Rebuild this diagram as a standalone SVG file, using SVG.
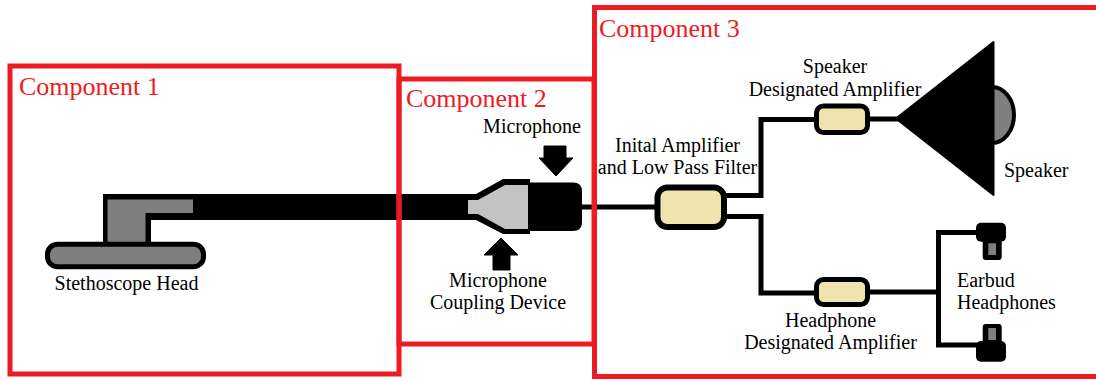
<svg xmlns="http://www.w3.org/2000/svg" width="1096" height="381" viewBox="0 0 1096 381">
<style>
.comp{fill:none;stroke:#ED1C24;stroke-width:5}
.ctitle{font-family:"Liberation Serif","Times New Roman",serif;font-size:26px;fill:#ED1C24}
.lbl{font-family:"Liberation Serif","Times New Roman",serif;font-size:20px;fill:#000}
.mid{text-anchor:middle}
.wire{fill:none;stroke:#000;stroke-width:5;stroke-linejoin:miter;stroke-linecap:square}
.amp{fill:#EFE4B0;stroke:#000}
.blk{fill:#000}
.gray{fill:#7F7F7F}
</style>
<rect width="1096" height="381" fill="#fff"/>

<g id="connectors">
  <line class="wire" x1="582" y1="207" x2="656" y2="207"/>
  <polyline class="wire" points="725,195.5 761,195.5 761,119.5 816,119.5"/>
  <polyline class="wire" points="725,216.5 761,216.5 761,293 816,293"/>
  <line class="wire" x1="868" y1="119" x2="897" y2="119"/>
  <line class="wire" x1="868" y1="292" x2="938.5" y2="292"/>
  <polyline class="wire" points="978,232.5 938.5,232.5 938.5,345 978,345"/>
</g>

<g id="stethoscope-head">
  <rect class="blk" x="103" y="194" width="368" height="26"/>
  <rect class="blk" x="103" y="194" width="48" height="50"/>
  <path class="gray" d="M107.5,199.5 H193 V213 H145.5 V245 H107.5 Z"/>
  <rect x="47.5" y="244.2" width="156" height="22.5" rx="10" fill="#7F7F7F" stroke="#000" stroke-width="5"/>
  <text class="lbl mid" x="126.5" y="290">Stethoscope Head</text>
</g>

<g id="microphone-coupling">
  <polygon class="blk" points="466,194 476,194 503,179 530,179 530,234 503,234 476,220 466,220"/>
  <polygon fill="#C3C3C3" points="468,200 478,200 505,185 528,185 528,229 505,229 478,214 468,214"/>
  <polygon class="blk" points="501,238 518,255 510,255 510,270 493,270 493,255 484,255" stroke="#000" stroke-width="1" stroke-linejoin="round"/>
  <text class="lbl mid" x="498" y="287">Microphone</text>
  <text class="lbl mid" x="498" y="309">Coupling Device</text>
</g>

<g id="microphone">
  <path class="blk" d="M528,182.5 H573 Q582,182.5 582,191.5 V222 Q582,231 573,231 H528 Z"/>
  <polygon class="blk" points="544,146 566,146 566,158 573,158 556,176 539,158 544,158" stroke="#000" stroke-width="1" stroke-linejoin="round"/>
  <text class="lbl mid" x="532" y="133">Microphone</text>
</g>

<g id="initial-amplifier">
  <rect class="amp" x="657.5" y="187.5" width="66.5" height="39.5" rx="10" stroke-width="6"/>
  <text class="lbl mid" x="677.5" y="152">Inital Amplifier</text>
  <text class="lbl mid" x="677.5" y="174">and Low Pass Filter</text>
</g>

<g id="speaker-amplifier">
  <rect class="amp" x="816.5" y="106" width="51" height="26.5" rx="7" stroke-width="5"/>
  <text class="lbl mid" x="835" y="73">Speaker</text>
  <text class="lbl mid" x="835" y="96">Designated Amplifier</text>
</g>

<g id="speaker">
  <ellipse cx="992" cy="115" rx="22" ry="28" fill="#7F7F7F" stroke="#000" stroke-width="4"/>
  <polygon class="blk" points="896,118.5 993.5,42 993.5,195" stroke="#000" stroke-width="2" stroke-linejoin="round"/>
  <text class="lbl" x="1004" y="177">Speaker</text>
</g>

<g id="headphone-amplifier">
  <rect class="amp" x="816.5" y="279.5" width="51" height="25" rx="7" stroke-width="5"/>
  <text class="lbl mid" x="830.5" y="327">Headphone</text>
  <text class="lbl mid" x="830.5" y="349">Designated Amplifier</text>
</g>

<g id="earbud-headphones">
  <rect class="blk" x="976" y="222.7" width="30" height="19" rx="5"/>
  <rect class="blk" x="982.7" y="236" width="19" height="24" rx="3"/>
  <rect class="gray" x="988.3" y="243.3" width="7.7" height="11.7"/>
  <rect class="blk" x="982.7" y="324" width="19" height="24" rx="3"/>
  <rect class="gray" x="988.3" y="328" width="7.7" height="12"/>
  <rect class="blk" x="976" y="341" width="30" height="20.7" rx="5"/>
  <text class="lbl" x="957" y="287">Earbud</text>
  <text class="lbl" x="957" y="309">Headphones</text>
</g>

<g id="component-1">
  <rect class="comp" x="10" y="66" width="389" height="308"/>
  <text class="ctitle" x="19" y="95">Component 1</text>
</g>
<g id="component-2">
  <rect class="comp" x="399" y="79" width="195" height="265"/>
  <text class="ctitle" x="406" y="107">Component 2</text>
</g>
<g id="component-3">
  <rect class="comp" x="594.5" y="7.5" width="510" height="369"/>
  <text class="ctitle" x="599" y="37">Component 3</text>
</g>
</svg>
